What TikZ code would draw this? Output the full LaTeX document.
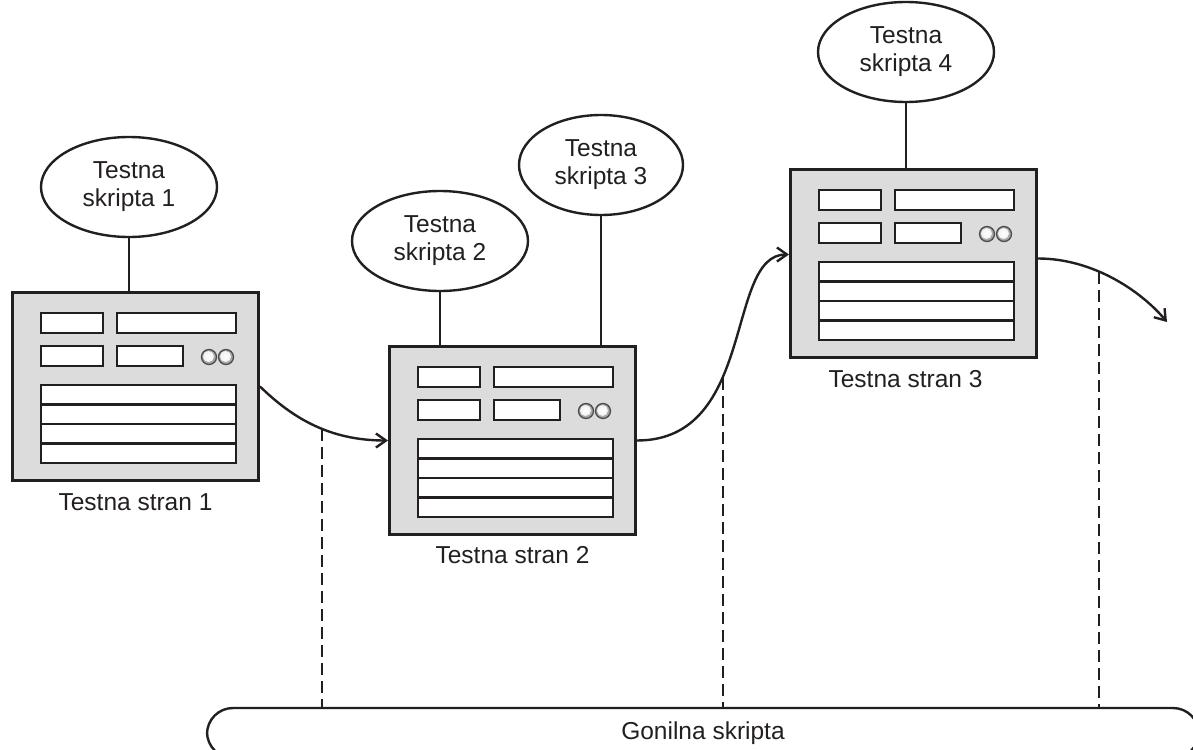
\documentclass[tikz,border=0pt]{standalone}
\usepackage{fontspec}
\setmainfont{Liberation Sans}
\usetikzlibrary{shapes.geometric,arrows.meta}

\definecolor{ink}{HTML}{231F20}
\definecolor{panel}{HTML}{DCDCDC}
\definecolor{knob}{HTML}{A8A8A8}

\tikzset{
  txt/.style={font=\fontsize{24.5pt}{28pt}\selectfont, text=ink},
  script/.style={ellipse, draw=ink, line width=2.4pt, fill=white,
    minimum width=176pt, minimum height=100pt, inner sep=0pt, align=center, txt},
  pagebox/.style={rectangle, draw=ink, line width=3pt, fill=panel, anchor=north west,
    minimum width=246pt, minimum height=188pt, inner sep=0pt},
  slot/.style={draw=ink, line width=2.8pt, fill=white},
  link/.style={draw=ink, line width=2.4pt},
  flow/.style={draw=ink, line width=2.4pt, -{Straight Barb[length=10pt,width=14pt]}},
  guide/.style={draw=ink, line width=2.2pt, dash pattern=on 12pt off 6pt},
  caption/.style={txt, inner sep=0pt},
  driver/.style={draw=ink, line width=2.4pt, rounded corners=26pt,
    minimum width=992pt, minimum height=50pt, inner sep=0pt, txt},
}

% A web page: grey panel with input fields, two knobs and a four-row table
\newcommand\drawpage[3]{%
  \node[pagebox] (#1) at (#2,#3) {};
  \begin{scope}[shift={(#1.north west)}]
    \draw[slot] (30,22) rectangle (92,42);
    \draw[slot] (106,22) rectangle (225,42);
    \draw[slot] (30,55) rectangle (92,75);
    \draw[slot] (106,55) rectangle (172,75);
    \foreach \cx in {198,215}{
      \fill[knob] (\cx,66) circle[radius=7.5pt];
      \shade[inner color=white, outer color=white!85!knob] (\cx-0.5,65.5) circle[radius=5.5pt];
      \draw[ink!80, line width=1.3pt] (\cx,66) circle[radius=7.5pt];
    }
    \draw[slot] (30,94) rectangle (225,172);
    \foreach \ry in {113.5,133,152.5}
      \draw[ink, line width=2.8pt] (30,\ry) -- (225,\ry);
  \end{scope}}

\begin{document}
\begin{tikzpicture}[x=1pt,y=-1pt]
\useasboundingbox (0,0) rectangle (1193,749);
\clip (0,0) rectangle (1193,749);

% pages
\drawpage{p1}{11}{291}
\drawpage{p2}{388}{345}
\drawpage{p3}{789}{168}

\node[caption] (c1) at ([yshift=-20pt]p1.south) {Testna stran 1};
\node[caption] (c2) at ([yshift=-19pt]p2.south) {Testna stran 2};
\node[caption] (c3) at ([xshift=-8pt,yshift=-20pt]p3.south) {Testna stran 3};

% test scripts attached to the pages
\node[script] (s1) at (129,187) {Testna\\skripta 1};
\node[script] (s2) at (440,241) {Testna\\skripta 2};
\node[script, minimum width=164pt] (s3) at (601,165) {Testna\\skripta 3};
\node[script] (s4) at (906,52) {Testna\\skripta 4};

\draw[link] (s1.south) -- (s1.south |- p1.north);
\draw[link] (s2.south) -- (s2.south |- p2.north);
\draw[link] (s3.south) -- (s3.south |- p2.north);
\draw[link] (s4.south) -- (s4.south |- p3.north);

% driver script
\node[driver] (bar) at (703,733) {Gonilna skripta};

% navigation between pages
\coordinate (tail) at (1167,322);
\draw[flow] (p1.east) .. controls +(33,32) and +(-58,0) .. (p2.west)
  coordinate[pos=0.56] (d1);
\draw[flow] (p2.east) .. controls +(120,0) and +(-64,0) .. ([yshift=9pt]p3.west)
  coordinate[pos=0.39] (d2);
\draw[flow] ([yshift=5pt]p3.east) .. controls +(54,0) and +(-27,-32) .. (tail)
  coordinate[pos=0.4] (d3);

% the driver script hands over control at each step
\draw[guide] (d1) -- (d1 |- bar.north);
\draw[guide] (d2) -- (d2 |- bar.north);
\draw[guide] (d3) -- (d3 |- bar.north);
\end{tikzpicture}
\end{document}
